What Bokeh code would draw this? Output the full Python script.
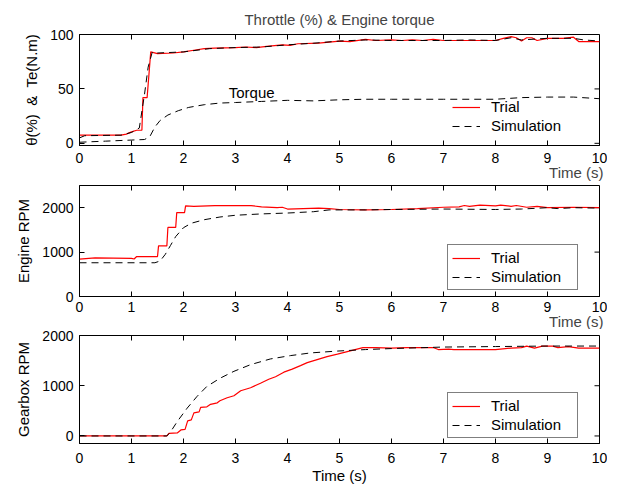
from bokeh.plotting import figure
from bokeh.models import (Range1d, FixedTicker, Legend, LegendItem, Title, Label)
from bokeh.layouts import column
from bokeh.embed import file_html
from bokeh.resources import INLINE

# ---------------- data ----------------
# Panel 1: throttle (%) trial, throttle simulation, torque simulation
thr_trial_t = [0, 0.8, 0.9, 1.0, 1.1, 1.2, 1.22, 1.3, 1.37, 1.5, 1.8, 2.0, 2.2, 2.4, 2.6,
               3.0, 3.2, 3.4, 3.6, 3.9, 4.05, 4.2, 4.6, 4.9, 5.0, 5.2, 5.5, 5.7, 6.0,
               6.2, 6.4, 6.6, 6.8, 7.0, 7.5, 8.0, 8.15, 8.3, 8.4, 8.5, 8.6, 8.7, 8.8,
               9.0, 9.3, 9.5, 9.6, 10.0]
thr_trial_v = [7.5, 7.5, 8.5, 10.5, 12, 12, 42, 42, 84, 82.5, 83, 84, 85.5, 87, 87.5,
               88, 88.5, 88, 89, 90.5, 90, 91.5, 92, 93.5, 94, 93.5, 95.5, 94.5, 95,
               94.5, 95, 94.5, 95.5, 94.5, 94.5, 94.5, 96.5, 98, 97, 94, 97, 97, 94.5,
               96.5, 96.5, 97.5, 93.5, 93.5]
thr_sim_t = [0, 0.1, 0.8, 1.0, 1.15, 1.25, 1.32, 1.4, 1.5, 2.0, 2.5, 3.0, 3.5, 4.0, 4.5,
             5.0, 5.5, 6.0, 7.0, 7.5, 8.0, 8.3, 8.5, 9.0, 9.5, 9.7, 10.0]
thr_sim_v = [5, 7, 7.5, 10, 14, 45, 70, 84, 83, 84, 87, 88, 88.5, 90.5, 92,
             94, 95, 94.5, 94.5, 95, 94.5, 97, 95, 96.5, 96.5, 95, 94]
torque_sim_t = [0, 0.5, 1.0, 1.25, 1.35, 1.45, 1.55, 1.7, 1.9, 2.1, 2.4, 2.7, 3.0, 3.5,
                4.0, 4.5, 5.0, 5.5, 6.0, 7.0, 8.0, 8.5, 9.0, 9.5, 10.0]
torque_sim_v = [1, 2, 3, 3.5, 6, 15, 21, 26, 30, 33, 35.5, 37, 37.5, 38.5,
                39.5, 39, 40, 40.5, 40.5, 40.5, 40.5, 42, 42.5, 42.5, 41]

# Panel 2: engine RPM
eng_trial_t = [0, 0.3, 1.0, 1.05, 1.1, 1.5, 1.52, 1.68, 1.7, 1.85, 1.87, 2.02, 2.04, 2.2,
               2.6, 3.3, 3.5, 3.8, 3.9, 4.0, 4.3, 4.6, 4.8, 5.0, 5.5, 6.0, 6.5, 7.0,
               7.3, 7.4, 7.5, 7.7, 8.0, 8.1, 8.3, 8.4, 8.6, 8.8, 9.0, 9.5, 10.0]
eng_trial_v = [840, 870, 860, 845, 900, 900, 1140, 1140, 1555, 1555, 1890, 1890, 2040, 2030,
               2045, 2045, 2020, 2000, 2010, 1970, 1980, 1990, 1980, 1960, 1950, 1960, 1980, 2010,
               2020, 2050, 2030, 2060, 2040, 2060, 2030, 2050, 2010, 2030, 2000, 2010, 2000]
eng_sim_t = [0, 1.45, 1.55, 1.65, 1.75, 1.85, 2.0, 2.15, 2.4, 2.7, 3.0, 3.5, 4.0, 4.5,
             4.8, 5.5, 6.0, 7.0, 8.0, 8.5, 9.0, 9.2, 9.5, 10.0]
eng_sim_v = [760, 760, 800, 950, 1150, 1350, 1550, 1650, 1730, 1790, 1830, 1860, 1880, 1910,
             1950, 1950, 1960, 1970, 1960, 1970, 2000, 1980, 2000, 1990]

# Panel 3: gearbox RPM
gb_trial_t = [0, 1.68, 1.72, 1.88, 1.95, 2.03, 2.08, 2.15, 2.2, 2.3, 2.33, 2.45, 2.52, 2.65,
              2.7, 2.84, 2.97, 3.1, 3.29, 3.48, 3.64, 3.77, 3.93, 4.09, 4.25, 4.38, 4.57,
              4.76, 4.96, 5.15, 5.3, 5.45, 5.7, 6.0, 6.3, 6.8, 6.9, 7.1, 7.2, 8.0, 8.3,
              8.5, 8.6, 8.75, 8.9, 9.1, 9.2, 9.4, 9.6, 10.0]
gb_trial_v = [0, 0, 50, 60, 120, 130, 300, 320, 460, 480, 570, 580, 630, 660,
              700, 760, 800, 900, 960, 1050, 1130, 1180, 1270, 1330, 1400, 1460, 1520,
              1580, 1630, 1680, 1720, 1760, 1760, 1750, 1760, 1760, 1720, 1730, 1720, 1720, 1750,
              1760, 1790, 1750, 1790, 1790, 1760, 1780, 1750, 1750]
gb_sim_t = [0, 1.68, 1.75, 1.88, 2.07, 2.26, 2.45, 2.71, 2.97, 3.29, 3.67, 4.06, 4.44,
            4.96, 5.5, 6.0, 7.0, 8.0, 9.0, 10.0]
gb_sim_v = [0, 0, 80, 287, 553, 787, 987, 1153, 1287, 1420, 1533, 1600, 1653,
            1690, 1720, 1740, 1770, 1780, 1790, 1790]

x_ticks = [0, 1, 2, 3, 4, 5, 6, 7, 8, 9, 10]
top_yticks = [0, 50, 100]
rpm_yticks = [0, 1000, 2000]

top_title = "Throttle (%) & Engine torque"
top_ylabel = "θ(%)\u00a0\u00a0&\u00a0\u00a0Te(N.m)"
mid_ylabel = "Engine RPM"
bot_ylabel = "Gearbox RPM"
xlabel = "Time (s)"
legend_labels = ["Trial", "Simulation"]
torque_label = "Torque"
torque_label_pos = (2.87, 46.5)

# ---------------- styling ----------------
FONT = "Liberation Sans"
FS = "15px"
TICK_FS = "14px"
RED = "#ff0000"
DASH = "7 5"
W = 607


def make_fig(height, yr, yticks, btop, bbot, ylabel, ylabel_standoff, xtick_standoff):
    p = figure(width=W, height=height, x_range=Range1d(0, 10), y_range=Range1d(*yr),
               output_backend="svg", toolbar_location=None,
               min_border_left=79, min_border_right=8,
               min_border_top=btop, min_border_bottom=bbot)
    p.grid.visible = False
    p.outline_line_color = "black"
    p.outline_line_alpha = 1.0
    p.outline_line_width = 1
    p.background_fill_color = "white"
    p.border_fill_color = "white"
    xa = p.below[0]
    ya = p.left[0]
    xa.ticker = FixedTicker(ticks=x_ticks)
    ya.ticker = FixedTicker(ticks=yticks)
    for ax in (xa, ya):
        ax.major_tick_in = 5
        ax.major_tick_out = 0
        ax.minor_tick_line_color = None
        ax.axis_line_color = "black"
        ax.major_tick_line_color = "black"
        ax.major_label_text_font = FONT
        ax.major_label_text_font_size = TICK_FS
        ax.major_label_text_color = "black"
        ax.axis_label_text_font = FONT
        ax.axis_label_text_font_size = FS
        ax.axis_label_text_font_style = "normal"
        ax.axis_label_text_color = "black"
    xa.major_label_standoff = xtick_standoff
    ya.major_label_standoff = 6
    ya.axis_label = ylabel
    ya.axis_label_standoff = ylabel_standoff
    # mirrored tick marks on the top and right edges (box on)
    p.ray(x=x_ticks, y=[yr[1]] * len(x_ticks), length=5, length_units="screen",
          angle=-90, angle_units="deg", line_color="black", line_width=1)
    p.ray(x=[10] * len(yticks), y=yticks, length=5, length_units="screen",
          angle=180, angle_units="deg", line_color="black", line_width=1)
    return p


def make_legend(r_trial, r_sim, loc, boxed):
    lg = Legend(items=[LegendItem(label=legend_labels[0], renderers=[r_trial]),
                       LegendItem(label=legend_labels[1], renderers=[r_sim])],
                location=loc, orientation="vertical",
                label_text_font=FONT, label_text_font_size=FS, label_text_color="black",
                glyph_width=28, glyph_height=16, label_height=16, label_width=82,
                spacing=2, padding=4, margin=0, label_standoff=11,
                background_fill_color="white",
                background_fill_alpha=1.0 if boxed else 0.0,
                border_line_color="black" if boxed else None,
                border_line_width=1)
    return lg


def time_title(p, standoff):
    p.add_layout(Title(text=xlabel, align="right", text_font=FONT, text_font_size=FS,
                       text_font_style="normal", standoff=standoff, offset=-4), "below")


# ---------- panel 1 ----------
p1 = make_fig(182, (-2, 100), top_yticks, 34, 37, top_ylabel, 7, 7)
p1.title.text = top_title
p1.title.align = "center"
p1.title.text_font = FONT
p1.title.text_font_size = FS
p1.title.text_font_style = "normal"
p1.title.standoff = 14
r1t = p1.line(thr_trial_t, thr_trial_v, line_color=RED, line_width=1.2)
r1s = p1.line(thr_sim_t, thr_sim_v, line_color="black", line_width=1, line_dash=DASH)
p1.line(torque_sim_t, torque_sim_v, line_color="black", line_width=1, line_dash=DASH)
p1.add_layout(Label(x=torque_label_pos[0], y=torque_label_pos[1], text=torque_label,
                    text_font=FONT, text_font_size=FS, text_baseline="middle",
                    text_align="left", text_color="black"))
p1.add_layout(make_legend(r1t, r1s, (373, 11), False))
time_title(p1, -7)

# ---------- panel 2 ----------
p2 = make_fig(147, (0, 2500), rpm_yticks, 3, 33, mid_ylabel, 7, 5)
r2t = p2.line(eng_trial_t, eng_trial_v, line_color=RED, line_width=1.2)
r2s = p2.line(eng_sim_t, eng_sim_v, line_color="black", line_width=1, line_dash=DASH)
p2.add_layout(make_legend(r2t, r2s, (368, 6), True))
time_title(p2, -7)

# ---------- panel 3 ----------
p3 = make_fig(157, (-150, 2000), rpm_yticks, 6, 43, bot_ylabel, 7, 9)
r3t = p3.line(gb_trial_t, gb_trial_v, line_color=RED, line_width=1.2)
r3s = p3.line(gb_sim_t, gb_sim_v, line_color="black", line_width=1, line_dash=DASH)
p3.add_layout(make_legend(r3t, r3s, (368, 5), True))
p3.below[0].axis_label = xlabel
p3.below[0].axis_label_standoff = 1

layout = column(p1, p2, p3, spacing=0)
open("out.html", "w").write(file_html(layout, INLINE))
